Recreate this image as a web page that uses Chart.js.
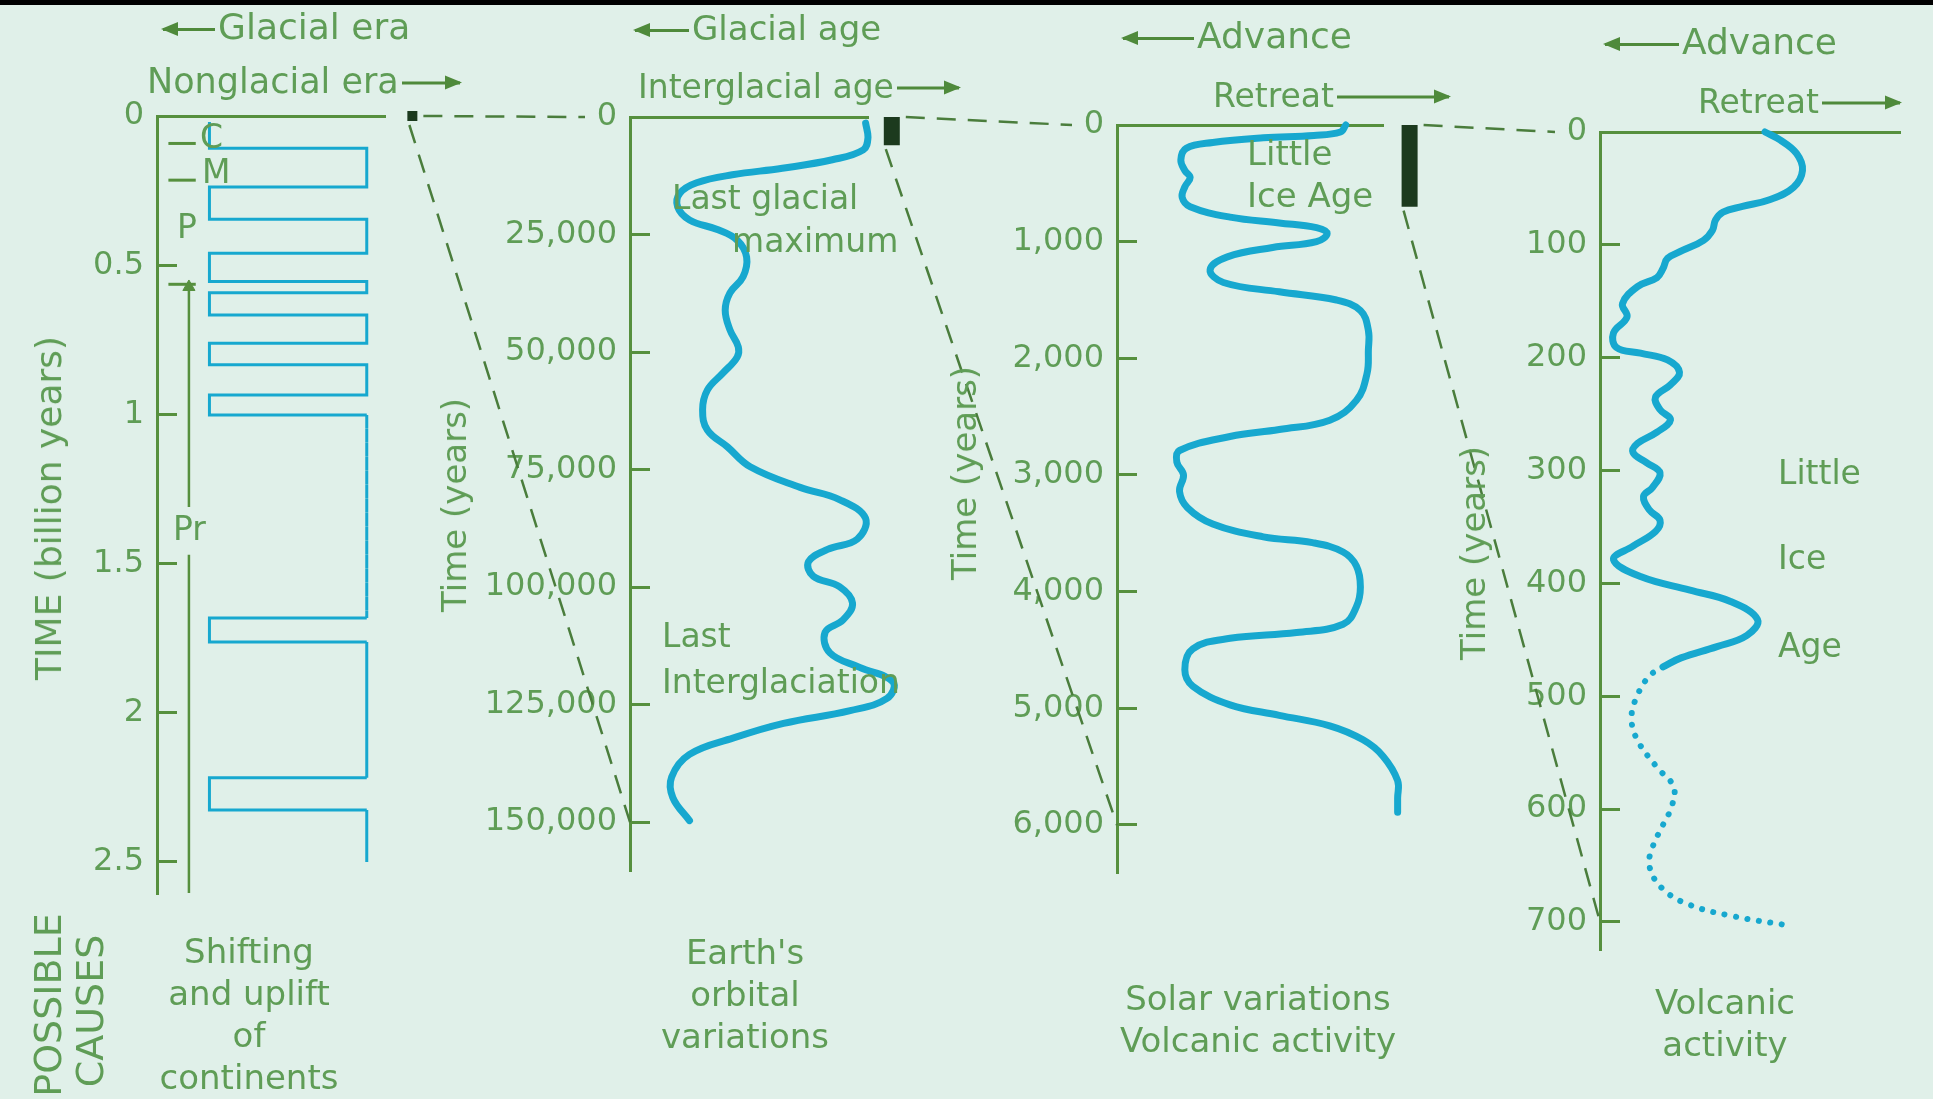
<!DOCTYPE html>
<html>
<head>
<meta charset="utf-8">
<title>Possible causes of glaciation</title>
<script src="https://cdn.jsdelivr.net/npm/chart.js@4.4.1/dist/chart.umd.min.js"></script>
<style>
  html, body { margin: 0; padding: 0; }
  body {
    width: 1933px; height: 1099px; position: relative; overflow: hidden;
    background: #e0f0e9; font-family: "DejaVu Sans", sans-serif; color: #5f9d56;
  }
  canvas { position: absolute; left: 0; top: 0; }
  .topbar { position: absolute; left: 0; top: 0; width: 1933px; height: 5px; background: #000; }
  .t { position: absolute; white-space: nowrap; line-height: 1; transform: translateY(-50%); }
  .c { position: absolute; white-space: nowrap; text-align: center; line-height: 42px; transform: translateX(-50%); }
  .rot { position: absolute; white-space: nowrap; line-height: 1; transform: translate(-50%, -50%) rotate(-90deg); }
  .al, .ar { display: inline-block; position: relative; height: 3px; background: #4f8a3b; vertical-align: middle; }
  .al { margin-right: 3px; }
  .ar { margin-left: 3px; }
  .al::before { content: ""; position: absolute; left: -2px; top: -6px; border-right: 17px solid #4f8a3b; border-top: 7.5px solid transparent; border-bottom: 7.5px solid transparent; }
  .ar::after { content: ""; position: absolute; right: -2px; top: -6px; border-left: 17px solid #4f8a3b; border-top: 7.5px solid transparent; border-bottom: 7.5px solid transparent; }
</style>
</head>
<body>
<canvas id="eraChart" width="1933" height="1099"></canvas>
<canvas id="orbitalChart" width="1933" height="1099"></canvas>
<canvas id="solarChart" width="1933" height="1099"></canvas>
<canvas id="volcanicChart" width="1933" height="1099"></canvas>
<canvas id="linkChart" width="1933" height="1099"></canvas>
<div class="topbar"></div>

<!-- headers -->
<div class="t" style="left:163px; top:27px; font-size:36px"><span class="al" style="width:52px"></span>Glacial era</div>
<div class="t" style="left:147px; top:81px; font-size:35px">Nonglacial era<span class="ar" style="width:58px"></span></div>
<div class="t" style="left:635px; top:28px; font-size:34px"><span class="al" style="width:54px"></span>Glacial age</div>
<div class="t" style="left:638px; top:86px; font-size:33px">Interglacial age<span class="ar" style="width:62px"></span></div>
<div class="t" style="left:1123px; top:36px; font-size:36px"><span class="al" style="width:71px"></span>Advance</div>
<div class="t" style="left:1213px; top:95px; font-size:33px">Retreat<span class="ar" style="width:112px"></span></div>
<div class="t" style="left:1605px; top:42px; font-size:36px"><span class="al" style="width:74px"></span>Advance</div>
<div class="t" style="left:1698px; top:101px; font-size:33px">Retreat<span class="ar" style="width:78px"></span></div>

<!-- axis titles -->
<div class="rot" style="left:49px; top:508px; font-size:36px">TIME (billion years)</div>
<div class="rot" style="left:454px; top:505px; font-size:34px">Time (years)</div>
<div class="rot" style="left:964px; top:473px; font-size:34px">Time (years)</div>
<div class="rot" style="left:1473px; top:553px; font-size:34px">Time (years)</div>
<div class="rot" style="left:48px; top:1005px; font-size:38px">POSSIBLE</div>
<div class="rot" style="left:90px; top:1011px; font-size:38px">CAUSES</div>

<!-- in-plot notes -->
<div class="t" style="left:200px; top:136px; font-size:33px">C</div>
<div class="t" style="left:202px; top:171px; font-size:33px">M</div>
<div class="t" style="left:177px; top:226px; font-size:33px">P</div>
<div class="t" style="left:173px; top:528px; font-size:33px">Pr</div>
<div class="t" style="left:672px; top:197px; font-size:33px">Last glacial</div>
<div class="t" style="left:732px; top:240px; font-size:33px">maximum</div>
<div class="t" style="left:662px; top:635px; font-size:33px">Last</div>
<div class="t" style="left:662px; top:681px; font-size:33px">Interglaciation</div>
<div class="t" style="left:1247px; top:153px; font-size:34px">Little</div>
<div class="t" style="left:1247px; top:195px; font-size:34px">Ice Age</div>
<div class="t" style="left:1778px; top:472px; font-size:33px">Little</div>
<div class="t" style="left:1778px; top:557px; font-size:33px">Ice</div>
<div class="t" style="left:1778px; top:645px; font-size:33px">Age</div>

<!-- causes -->
<div class="c" style="left:249px; top:930px; font-size:34px">Shifting<br>and uplift<br>of<br>continents</div>
<div class="c" style="left:745px; top:931px; font-size:34px">Earth's<br>orbital<br>variations</div>
<div class="c" style="left:1258px; top:977px; font-size:34px">Solar variations<br>Volcanic activity</div>
<div class="c" style="left:1725px; top:981px; font-size:34px">Volcanic<br>activity</div>

<script>
const GREEN = "#5f9d56";
const AXIS = "#56903e";
const LINK = "#4a7d3c";
const CYAN = "#17a8cf";
const MARK = "#1c3a1e";
const FONT = "DejaVu Sans";

// panel 1: shifting and uplift of continents (billion years)
const eraTicks = [0, 0.5, 1, 1.5, 2, 2.5];
const eraTickLabels = ["0", "0.5", "1", "1.5", "2", "2.5"];
const continentStart = 0.02;
const continentEnd = 2.5;
const continentTurns = [0.108, 0.238, 0.346, 0.46, 0.555, 0.592, 0.667, 0.762, 0.834, 0.935, 1.002, 1.682, 1.763, 2.218, 2.326];
const glacialSide = 23;
const nonglacialSide = 92;
const eraBoundaries = [0.092, 0.215, 0.564];
const proterozoicTop = [0.573, 1.31];
const proterozoicBottom = [1.47, 2.62];

// panel 2: Earth's orbital variations (years)
const orbitalTicks = [0, 25000, 50000, 75000, 100000, 125000, 150000];
const orbitalTickLabels = ["0", "25,000", "50,000", "75,000", "100,000", "125,000", "150,000"];
const orbitalYears = [1300, 4300, 7000, 9100, 10900, 12300, 14000, 16200, 19100, 21900, 24000, 26200, 29800, 34000, 37400, 41100, 45300, 48900, 51100, 54500, 58100, 62300, 66600, 70200, 74400, 78800, 81400, 85400, 89800, 92000, 94600, 97700, 99900, 103400, 107000, 109600, 114000, 117100, 120200, 123700, 126300, 129000, 132100, 135600, 140400, 144800, 149700];
const orbitalIce = [99, 100, 98, 85, 64, 43, 28, 21, 20, 25, 37, 45, 49, 47.5, 42, 40, 42, 45.5, 45, 39, 32.5, 30.5, 32.5, 41, 50.5, 71.5, 88, 99, 95.5, 83, 75, 77, 88, 93.5, 89.5, 82, 84, 96.5, 110.5, 108, 92.5, 64.5, 43.5, 25, 17.5, 18, 25];

// panel 3: solar variations, volcanic activity (years)
const solarTicks = [0, 1000, 2000, 3000, 4000, 5000, 6000];
const solarTickLabels = ["0", "1,000", "2,000", "3,000", "4,000", "5,000", "6,000"];
const solarYears = [0, 60, 90, 110, 150, 200, 300, 390, 450, 530, 620, 700, 790, 840, 880, 930, 1000, 1050, 1130, 1240, 1350, 1430, 1500, 1590, 1760, 1930, 2130, 2360, 2530, 2610, 2670, 2790, 2890, 3000, 3140, 3280, 3420, 3530, 3580, 3660, 3780, 3960, 4130, 4280, 4350, 4400, 4490, 4670, 4810, 4970, 5060, 5150, 5270, 5410, 5620, 5770, 5890];
const solarIce = [86, 84, 74, 55, 36, 26, 24, 25.5, 27.5, 25.5, 24.5, 27.5, 42.5, 61, 75, 79, 75, 58.5, 41.5, 35, 40, 61, 82.5, 91.5, 94.5, 94.5, 94, 90, 80, 61, 42.5, 23.5, 22.5, 25, 23.5, 26.5, 36, 55, 73.5, 85, 90, 91.5, 90, 85, 67.5, 42.5, 28.5, 25.5, 28.5, 42.5, 61, 80, 92.5, 100, 105.5, 105.5, 105.5];

// panel 4: volcanic activity (years), dotted part is uncertain
const volcanicTicks = [0, 100, 200, 300, 400, 500, 600, 700];
const volcanicTickLabels = ["0", "100", "200", "300", "400", "500", "600", "700"];
const volcanicYears = [0, 7, 19, 34, 49, 60, 66, 71, 78, 87, 96, 105, 112, 121, 129, 137, 152, 164, 178, 191, 196, 202, 213, 224, 235, 246, 255, 266, 276, 284, 293, 302, 315, 323, 335, 344, 354, 367, 379, 394, 406, 416, 432, 446, 456, 466, 474];
const volcanicIce = [55, 60, 65.5, 67.5, 64.5, 56.5, 47.5, 41, 38.5, 37.5, 34.5, 27.5, 22.5, 21, 19, 12.5, 7.5, 9, 4.5, 5.5, 13.5, 22.5, 26.5, 23.5, 18.5, 20, 23.5, 19, 12.5, 11, 15.5, 20, 17.5, 14.5, 16.5, 20, 18.5, 11, 4.5, 13.5, 30, 43.5, 52.5, 49, 39, 27, 21];
const volcanicDottedYears = [474, 482, 499, 519, 539, 563, 580, 597, 614, 634, 651, 671, 685, 695, 703];
const volcanicDottedIce = [21, 16.5, 12.5, 10.5, 12.5, 19, 24.5, 24, 21, 17.5, 16.5, 21, 30, 44.5, 62.5];

// black bars beside each axis: the time span shown by the next panel
const markerX = [112, 110, 110];
const markerSpan = [orbitalTicks[orbitalTicks.length - 1] / 1e9, solarTicks[solarTicks.length - 1], volcanicTicks[volcanicTicks.length - 1]];

// layout of the four panels on the page
const PAGE_W = 1933, PAGE_H = 1099, AXIS_W = 160;
const boxes = [
  { left: 157, right: 385, top: 116, bottom: 893, yMax: 2.604 },
  { left: 630, right: 868, top: 117, bottom: 870, yMax: 160200 },
  { left: 1117, right: 1383, top: 125, bottom: 872, yMax: 6403 },
  { left: 1600, right: 1900, top: 132, bottom: 949, yMax: 724 },
];
const markerWidth = [10, 16, 16];
const markerCap = ["square", "butt", "butt"];

Chart.defaults.font.family = FONT;

function pairs(ys, xs) {
  return ys.map(function (y, i) {
    return { x: xs[i], y: y };
  });
}

function markerDataset(i) {
  return {
    data: [{ x: markerX[i], y: 0 }, { x: markerX[i], y: markerSpan[i] }],
    borderColor: MARK,
    borderWidth: markerWidth[i],
    borderCapStyle: markerCap[i],
    pointRadius: 0,
    clip: false,
  };
}

function curveDataset(points, width) {
  return {
    data: points,
    borderColor: CYAN,
    borderWidth: width,
    tension: 0.4,
    borderCapStyle: "round",
    borderJoinStyle: "round",
    pointRadius: 0,
    clip: false,
  };
}

function panelChart(id, box, ticks, tickLabels, datasets) {
  return new Chart(document.getElementById(id), {
    type: "line",
    data: { datasets: datasets },
    options: {
      responsive: false,
      animation: false,
      devicePixelRatio: 1,
      indexAxis: "y",
      events: [],
      layout: {
        padding: {
          left: box.left - AXIS_W,
          top: box.top,
          right: PAGE_W - box.right,
          bottom: PAGE_H - box.bottom,
        },
      },
      plugins: { legend: { display: false }, tooltip: { enabled: false } },
      scales: {
        x: {
          type: "linear",
          position: "top",
          min: 0,
          max: 100,
          ticks: { display: false },
          grid: { display: false },
          border: { display: true, color: AXIS, width: 3 },
          afterFit: function (scale) {
            scale.height = 0;
          },
        },
        y: {
          type: "linear",
          position: "left",
          reverse: true,
          min: 0,
          max: box.yMax,
          afterBuildTicks: function (scale) {
            scale.ticks = ticks.map(function (v) {
              return { value: v };
            });
          },
          afterFit: function (scale) {
            scale.width = AXIS_W;
          },
          ticks: {
            autoSkip: false,
            color: GREEN,
            padding: 33,
            font: { family: FONT, size: 32 },
            callback: function (value, index) {
              return tickLabels[index];
            },
          },
          grid: {
            display: true,
            drawOnChartArea: false,
            drawTicks: true,
            tickLength: -20,
            color: AXIS,
            lineWidth: 3,
          },
          border: { display: true, color: AXIS, width: 3 },
        },
      },
    },
  });
}

// panel 1 square wave between glacial and nonglacial states
var continentPoints = [{ x: glacialSide, y: continentStart }];
var side = glacialSide;
continentTurns.forEach(function (t) {
  continentPoints.push({ x: side, y: t });
  side = side === glacialSide ? nonglacialSide : glacialSide;
  continentPoints.push({ x: side, y: t });
});
continentPoints.push({ x: side, y: continentEnd });

const eraTickFrom = 5, eraTickTo = 17, eraArrowX = 14;

var eraDatasets = [
  {
    data: continentPoints,
    borderColor: CYAN,
    borderWidth: 3,
    tension: 0,
    pointRadius: 0,
    segment: {
      borderDash: function (ctx) {
        var a = continentPoints[ctx.p0DataIndex];
        var b = continentPoints[ctx.p1DataIndex];
        return a.x === nonglacialSide && b.x === nonglacialSide && a.y >= 1 ? [9, 5] : undefined;
      },
    },
  },
  {
    data: pairs(proterozoicTop, [eraArrowX, eraArrowX]),
    borderColor: AXIS,
    borderWidth: 2.5,
    pointStyle: "triangle",
    pointRadius: [7, 0],
    pointRotation: 0,
    pointBackgroundColor: AXIS,
    pointBorderColor: AXIS,
    pointBorderWidth: 1,
  },
  {
    data: pairs(proterozoicBottom, [eraArrowX, eraArrowX]),
    borderColor: AXIS,
    borderWidth: 2.5,
    pointStyle: "triangle",
    pointRadius: [0, 7],
    pointRotation: 180,
    pointBackgroundColor: AXIS,
    pointBorderColor: AXIS,
    pointBorderWidth: 1,
  },
  markerDataset(0),
];
eraBoundaries.forEach(function (v) {
  eraDatasets.push({
    data: [{ x: eraTickFrom, y: v }, { x: eraTickTo, y: v }],
    borderColor: AXIS,
    borderWidth: 3,
    pointRadius: 0,
  });
});

const eraChart = panelChart("eraChart", boxes[0], eraTicks, eraTickLabels, eraDatasets);

const orbitalChart = panelChart("orbitalChart", boxes[1], orbitalTicks, orbitalTickLabels, [
  curveDataset(pairs(orbitalYears, orbitalIce), 7),
  markerDataset(1),
]);

const solarChart = panelChart("solarChart", boxes[2], solarTicks, solarTickLabels, [
  curveDataset(pairs(solarYears, solarIce), 7),
  markerDataset(2),
]);

var dotted = curveDataset(pairs(volcanicDottedYears, volcanicDottedIce), 6);
dotted.borderDash = [0.1, 11.5];
const volcanicChart = panelChart("volcanicChart", boxes[3], volcanicTicks, volcanicTickLabels, [
  curveDataset(pairs(volcanicYears, volcanicIce), 7),
  dotted,
]);

const panels = [eraChart, orbitalChart, solarChart, volcanicChart];
const lastTicks = [eraTicks, orbitalTicks, solarTicks, volcanicTicks].map(function (t) {
  return t[t.length - 1];
});

// dashed lines that tie each marker to the next panel's axis
const zoomLinks = {
  id: "zoomLinks",
  afterDraw: function (chart) {
    var ctx = chart.ctx;
    ctx.save();
    ctx.strokeStyle = LINK;
    ctx.lineWidth = 2.5;
    ctx.setLineDash([19, 12]);
    for (var i = 0; i < 3; i++) {
      var a = panels[i], b = panels[i + 1];
      var half = markerWidth[i] / 2;
      var mx = a.scales.x.getPixelForValue(markerX[i]);
      var y0 = a.scales.y.getPixelForValue(0);
      var yEnd = Math.max(a.scales.y.getPixelForValue(markerSpan[i]), y0 + half);
      ctx.beginPath();
      ctx.moveTo(mx + half + 6, y0);
      ctx.lineTo(b.chartArea.left - 45, b.scales.y.getPixelForValue(0));
      ctx.moveTo(mx - half + 2, yEnd + 4);
      ctx.lineTo(b.chartArea.left, b.scales.y.getPixelForValue(lastTicks[i + 1]));
      ctx.stroke();
    }
    ctx.restore();
  },
};

new Chart(document.getElementById("linkChart"), {
  type: "line",
  data: { datasets: [] },
  options: {
    responsive: false,
    animation: false,
    devicePixelRatio: 1,
    events: [],
    plugins: { legend: { display: false }, tooltip: { enabled: false } },
    scales: { x: { display: false }, y: { display: false } },
  },
  plugins: [zoomLinks],
});
</script>
</body>
</html>
